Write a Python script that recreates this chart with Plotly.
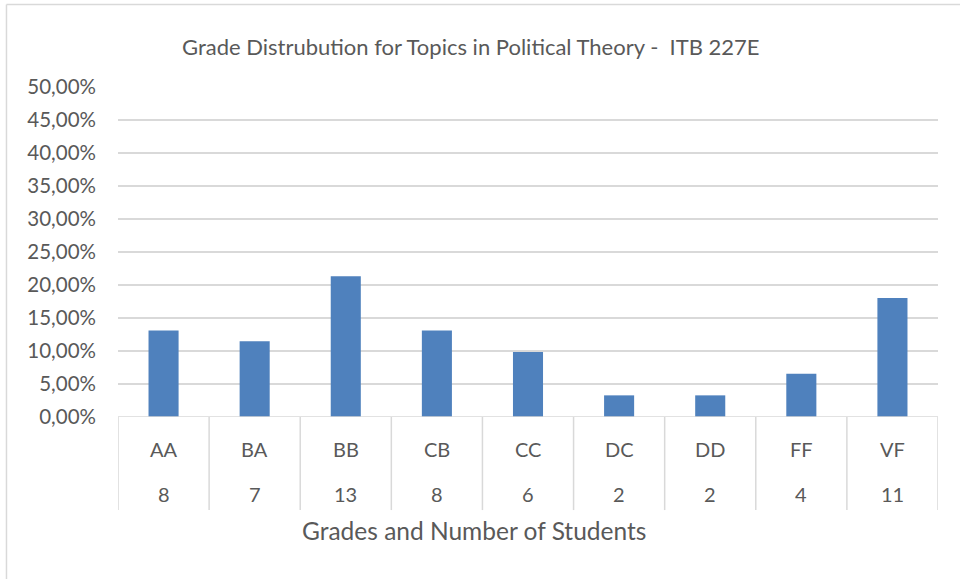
import plotly.graph_objects as go

grades = ["AA", "BA", "BB", "CB", "CC", "DC", "DD", "FF", "VF"]
counts = [8, 7, 13, 8, 6, 2, 2, 4, 11]
total = sum(counts)
shares = [c / total for c in counts]

title_text = "Grade Distrubution for Topics in Political Theory -  ITB 227E"
x_title = "Grades and Number of Students"

FONT = "Lato"
TXT = "#595959"
GRID = "#d9d9d9"

fig = go.Figure()
fig.add_trace(go.Bar(
    x=list(range(len(grades))), y=shares,
    marker=dict(color="#4f81bd", line=dict(width=0)),
    width=0.33, hoverinfo="skip",
))

shapes = []
# category separators
for i in range(len(grades) + 1):
    shapes.append(dict(type="line", xref="x", yref="paper",
                       x0=i - 0.5, x1=i - 0.5, y0=0, y1=-0.282,
                       line=dict(color=GRID, width=1.5)))
# outer chart border (top and left visible)
shapes.append(dict(type="line", xref="paper", yref="paper",
                   x0=-0.136, x1=1.05, y0=1.25, y1=1.25,
                   line=dict(color=GRID, width=1.5)))
shapes.append(dict(type="line", xref="paper", yref="paper",
                   x0=-0.136, x1=-0.136, y0=1.25, y1=-0.5,
                   line=dict(color=GRID, width=1.5)))

annotations = []
for i, (g, c) in enumerate(zip(grades, counts)):
    annotations.append(dict(x=i, y=-0.097, xref="x", yref="paper", text=g,
                            showarrow=False, font=dict(family=FONT, size=20, color=TXT),
                            xanchor="center", yanchor="middle"))
    annotations.append(dict(x=i, y=-0.233, xref="x", yref="paper", text=str(c),
                            showarrow=False, font=dict(family=FONT, size=20, color=TXT),
                            xanchor="center", yanchor="middle"))
annotations.append(dict(x=0.43, y=1.124, xref="paper", yref="paper", text=title_text,
                        showarrow=False, font=dict(family=FONT, size=22, color=TXT),
                        xanchor="center", yanchor="middle"))
annotations.append(dict(x=0.434, y=-0.345, xref="paper", yref="paper", text=x_title,
                        showarrow=False, font=dict(family=FONT, size=24.5, color=TXT),
                        xanchor="center", yanchor="middle"))

fig.update_layout(
    width=960, height=579,
    margin=dict(l=118, r=22, t=87, b=162),
    paper_bgcolor="white", plot_bgcolor="white",
    separators=",.",
    showlegend=False,
    hovermode=False,
    shapes=shapes, annotations=annotations,
    xaxis=dict(range=[-0.5, 8.5], showticklabels=False, showgrid=False,
               zeroline=False, showline=False, ticks=""),
    yaxis=dict(range=[0, 0.5], dtick=0.05, tick0=0, tickformat=".2%",
               showgrid=True, gridcolor=GRID, gridwidth=1.5,
               zeroline=False, showline=False, ticks="",
               ticklabelstandoff=21,
               tickfont=dict(family=FONT, size=20.5, color=TXT)),
    font=dict(family=FONT, color=TXT),
)
fig.add_hline(y=0, line=dict(color=GRID, width=1.5))

fig.write_html("out.html",
               config={"displayModeBar": False},
               post_script="document.body.style.margin='0';document.body.style.overflow='hidden';")
